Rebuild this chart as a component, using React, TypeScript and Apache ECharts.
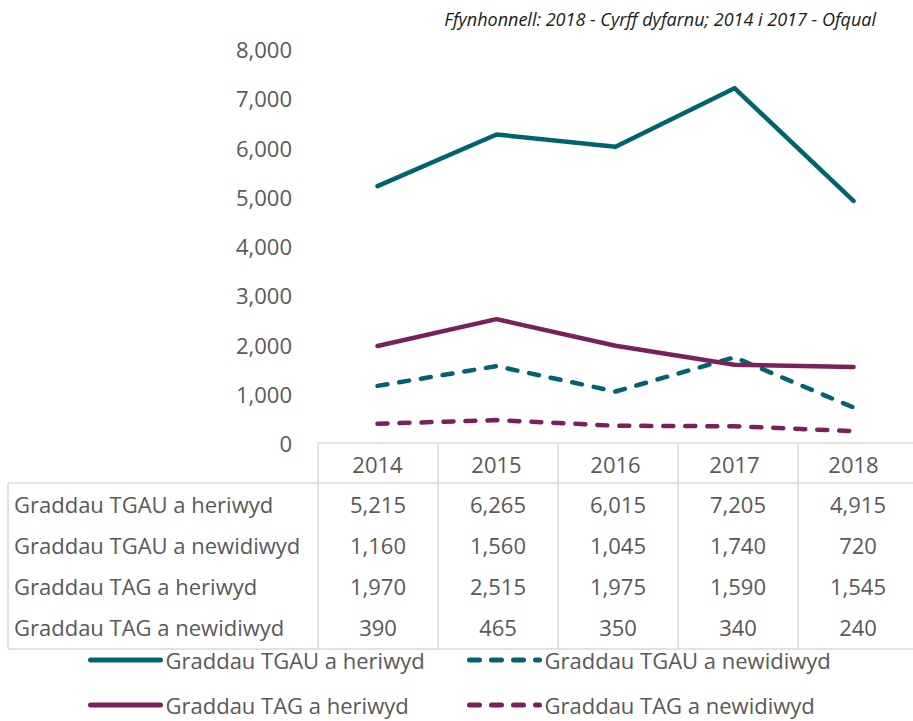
import React, { useEffect, useRef } from "react";
import * as echarts from "echarts";

const years = ["2014", "2015", "2016", "2017", "2018"];
const seriesNames = [
  "Graddau TGAU a heriwyd",
  "Graddau TGAU a newidiwyd",
  "Graddau TAG a heriwyd",
  "Graddau TAG a newidiwyd",
];
const tgauHeriwyd = [5215, 6265, 6015, 7205, 4915];
const tgauNewidiwyd = [1160, 1560, 1045, 1740, 720];
const tagHeriwyd = [1970, 2515, 1975, 1590, 1545];
const tagNewidiwyd = [390, 465, 350, 340, 240];
const yMax = 8000;
const yInterval = 1000;
const sourceNote = "Ffynhonnell: 2018 - Cyrff dyfarnu; 2014 i 2017 - Ofqual";

const TEAL = "#00636F";
const PLUM = "#7B1F5D";
const TXT = "#595959";
const BORDER = "#D9D9D9";
const FONT = "'Open Sans', sans-serif";
const FS = 22;

const allData = [tgauHeriwyd, tgauNewidiwyd, tagHeriwyd, tagNewidiwyd];
const colors = [TEAL, TEAL, PLUM, PLUM];
const dashed = [false, true, false, true];

const fmt = (v: number) => v.toLocaleString("en-US");

export default function App() {
  const ref = useRef<HTMLDivElement>(null);
  useEffect(() => {
    if (!ref.current) return;
    const chart = echarts.init(ref.current, null, { renderer: "svg" });

    const gridLeft = 318;
    const colW = 120;
    const gridTop = 49;
    const gridBottomY = 443;
    const tableTop = 483;
    const rowH = 41;
    const tableBottom = 649;
    const tableLeft = 8;
    const W = 913;

    const graphics: any[] = [];
    const lineStyle = { stroke: BORDER, lineWidth: 1.5 };
    graphics.push({ type: "line", shape: { x1: gridLeft, y1: gridBottomY, x2: W + 5, y2: gridBottomY }, style: lineStyle, silent: true });
    graphics.push({ type: "line", shape: { x1: tableLeft, y1: tableTop, x2: W + 5, y2: tableTop }, style: lineStyle, silent: true });
    graphics.push({ type: "line", shape: { x1: tableLeft, y1: tableBottom, x2: W + 5, y2: tableBottom }, style: lineStyle, silent: true });
    graphics.push({ type: "line", shape: { x1: tableLeft, y1: tableTop, x2: tableLeft, y2: tableBottom }, style: lineStyle, silent: true });
    for (let i = 0; i <= years.length; i++) {
      const x = gridLeft + i * colW;
      graphics.push({ type: "line", shape: { x1: x, y1: gridBottomY, x2: x, y2: tableBottom }, style: lineStyle, silent: true });
    }
    seriesNames.forEach((name, r) => {
      const cy = tableTop + rowH * r + 21;
      graphics.push({
        type: "text",
        x: 14,
        y: cy,
        style: { text: name, fill: TXT, font: `${FS}px ${FONT}`, textVerticalAlign: "middle", textAlign: "left" },
        silent: true,
      });
      allData[r].forEach((v, c) => {
        graphics.push({
          type: "text",
          x: gridLeft + colW * (c + 0.5),
          y: cy,
          style: { text: fmt(v), fill: TXT, font: `${FS}px ${FONT}`, textVerticalAlign: "middle", textAlign: "center" },
          silent: true,
        });
      });
    });
    graphics.push({
      type: "text",
      x: 876,
      y: 19,
      style: { text: sourceNote, fill: "#1A1A1A", font: `italic 18px ${FONT}`, textAlign: "right", textVerticalAlign: "middle" },
      silent: true,
    });

    const legendPos = [
      { left: 88, top: 649 },
      { left: 467, top: 649 },
      { left: 88, top: 694 },
      { left: 467, top: 694 },
    ];

    chart.setOption({
      animation: false,
      grid: { left: gridLeft, top: gridTop, width: colW * years.length, height: gridBottomY - gridTop, containLabel: false },
      xAxis: {
        type: "category",
        data: years,
        boundaryGap: true,
        axisLine: { show: false },
        axisTick: { show: false },
        axisLabel: { fontSize: FS, fontFamily: FONT, color: TXT, margin: 10 },
        splitLine: { show: false },
      },
      yAxis: {
        type: "value",
        min: 0,
        max: yMax,
        interval: yInterval,
        axisLine: { show: false },
        axisTick: { show: false },
        splitLine: { show: false },
        axisLabel: { fontSize: FS, fontFamily: FONT, color: TXT, margin: 26, formatter: (v: number) => fmt(v) },
      },
      legend: seriesNames.map((n, i) => ({
        data: [n],
        left: legendPos[i].left,
        top: legendPos[i].top,
        padding: 0,
        itemWidth: 70,
        itemHeight: 14,
        textStyle: { fontSize: FS, fontFamily: FONT, color: TXT },
        lineStyle: { width: 5, cap: "round" },
        itemStyle: { color: "rgba(0,0,0,0)", borderColor: "rgba(0,0,0,0)", borderWidth: 0, opacity: 0 },
        selectedMode: false,
      })),
      series: seriesNames.map((n, i) => ({
        name: n,
        type: "line",
        data: allData[i],
        symbol: "none",
        showSymbol: false,
        color: colors[i],
        lineStyle: {
          color: colors[i],
          width: 4.5,
          type: dashed[i] ? [10, 12] : "solid",
          cap: "round",
          join: "round",
        },
      })),
      graphic: graphics,
    });
    return () => chart.dispose();
  }, []);
  return <div ref={ref} style={{ width: 913, height: 721, position: "absolute", left: 0, top: 0 }} />;
}
